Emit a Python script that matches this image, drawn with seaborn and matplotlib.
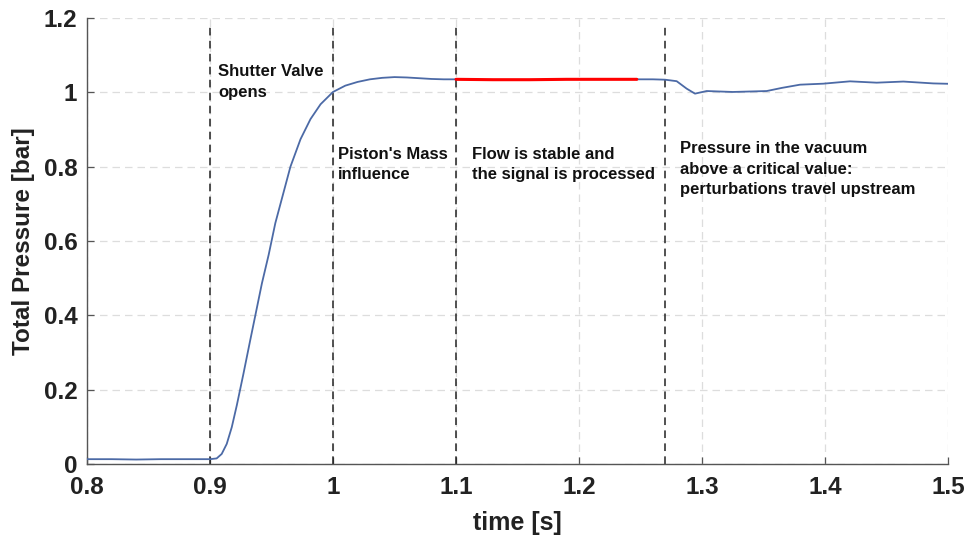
import matplotlib
matplotlib.use("Agg")
import matplotlib.pyplot as plt
from matplotlib.ticker import FuncFormatter
import seaborn as sns
import pandas as pd

# ---- data ----
time_rise = [0.80, 0.82, 0.84, 0.86, 0.88, 0.90, 0.9054, 0.9095, 0.9136, 0.9177, 0.9218,
             0.9272, 0.9327, 0.9368, 0.9422, 0.9477, 0.9531, 0.9586, 0.9654, 0.9736,
             0.9817, 0.9899, 1.00, 1.01, 1.02, 1.03, 1.04, 1.05, 1.06, 1.07, 1.08,
             1.09, 1.10]
pres_rise = [0.013, 0.013, 0.012, 0.013, 0.013, 0.013, 0.015, 0.027, 0.054, 0.099, 0.158,
             0.243, 0.333, 0.399, 0.486, 0.563, 0.648, 0.716, 0.800, 0.874,
             0.928, 0.968, 1.001, 1.018, 1.028, 1.035, 1.039, 1.041, 1.040, 1.038, 1.036,
             1.035, 1.035]

time_stable = [1.10, 1.13, 1.16, 1.19, 1.22, 1.247]
pres_stable = [1.035, 1.034, 1.034, 1.035, 1.035, 1.035]

time_after = [1.247, 1.26, 1.27, 1.2794, 1.2875, 1.2943, 1.3038, 1.325, 1.3526, 1.365,
              1.3797, 1.3986, 1.4203, 1.442, 1.4637, 1.488, 1.50]
pres_after = [1.035, 1.035, 1.034, 1.030, 1.010, 0.9965, 1.0035, 1.001, 1.0035, 1.012,
              1.0206, 1.0233, 1.0296, 1.026, 1.029, 1.024, 1.023]

event_times = [0.9, 1.0, 1.1, 1.27]
annotations = [
    (0.9065, 1.075, "Shutter Valve\nopens"),
    (1.004, 0.853, "Piston's Mass\ninfluence"),
    (1.113, 0.853, "Flow is stable and\nthe signal is processed"),
    (1.282, 0.868, "Pressure in the vacuum\nabove a critical value:\nperturbations travel upstream"),
]
x_ticks = [0.8, 0.9, 1.0, 1.1, 1.2, 1.3, 1.4, 1.5]
y_ticks = [0, 0.2, 0.4, 0.6, 0.8, 1.0, 1.2]
xlabel = "time [s]"
ylabel = "Total Pressure [bar]"

# ---- style ----
sns.set_style("white")
plt.rcParams['font.family'] = ['Liberation Sans', 'DejaVu Sans']
plt.rcParams['font.weight'] = 'bold'

fig = plt.figure(figsize=(9.7, 5.37), dpi=100)
ax = fig.add_axes([87/970, 1 - 464/537, (948-87)/970, (464-18)/537])

blue = "#4c6aa6"
df_rise = pd.DataFrame({"t": time_rise, "p": pres_rise})
df_stable = pd.DataFrame({"t": time_stable, "p": pres_stable})
df_after = pd.DataFrame({"t": time_after, "p": pres_after})

sns.lineplot(data=df_rise, x="t", y="p", ax=ax, color=blue, lw=1.3, zorder=3)
sns.lineplot(data=df_after, x="t", y="p", ax=ax, color=blue, lw=1.3, zorder=3)
sns.lineplot(data=df_stable, x="t", y="p", ax=ax, color="#ff0000", lw=2.2, zorder=4)

for t in event_times:
    ax.plot([t, t], [0, 1.18], color="#222222", lw=1.1, ls=(0, (5, 3.5)), zorder=2)

for x, y, s in annotations:
    ax.text(x, y, s, fontsize=12, fontweight='bold', va='top', ha='left',
            color="#111111", linespacing=1.45, zorder=5)

ax.set_xlim(0.8, 1.5)
ax.set_ylim(0, 1.2)
ax.set_xticks(x_ticks)
ax.set_yticks(y_ticks)
fmt = FuncFormatter(lambda v, p: f"{v:g}")
ax.xaxis.set_major_formatter(fmt)
ax.yaxis.set_major_formatter(fmt)

ax.grid(True, color="#dddddd", ls=(0, (6, 4)), lw=0.9, zorder=0)
ax.set_axisbelow(True)

for side in ["top", "right"]:
    ax.spines[side].set_visible(False)
for side in ["left", "bottom"]:
    ax.spines[side].set_color("#555555")
    ax.spines[side].set_linewidth(1.0)

ax.tick_params(axis='both', direction='in', length=5, width=0.9, color="#555555",
               labelsize=17.5, labelcolor="#222222", left=True, bottom=True)
ax.tick_params(axis='y', pad=7)
ax.tick_params(axis='x', pad=9)
for lab in ax.get_xticklabels() + ax.get_yticklabels():
    lab.set_fontweight('bold')

ax.set_xlabel(xlabel, fontsize=18, fontweight='bold', color="#222222", labelpad=8)
ax.set_ylabel(ylabel, fontsize=17.5, fontweight='bold', color="#222222", labelpad=6)

fig.savefig("out.png", dpi=100)
